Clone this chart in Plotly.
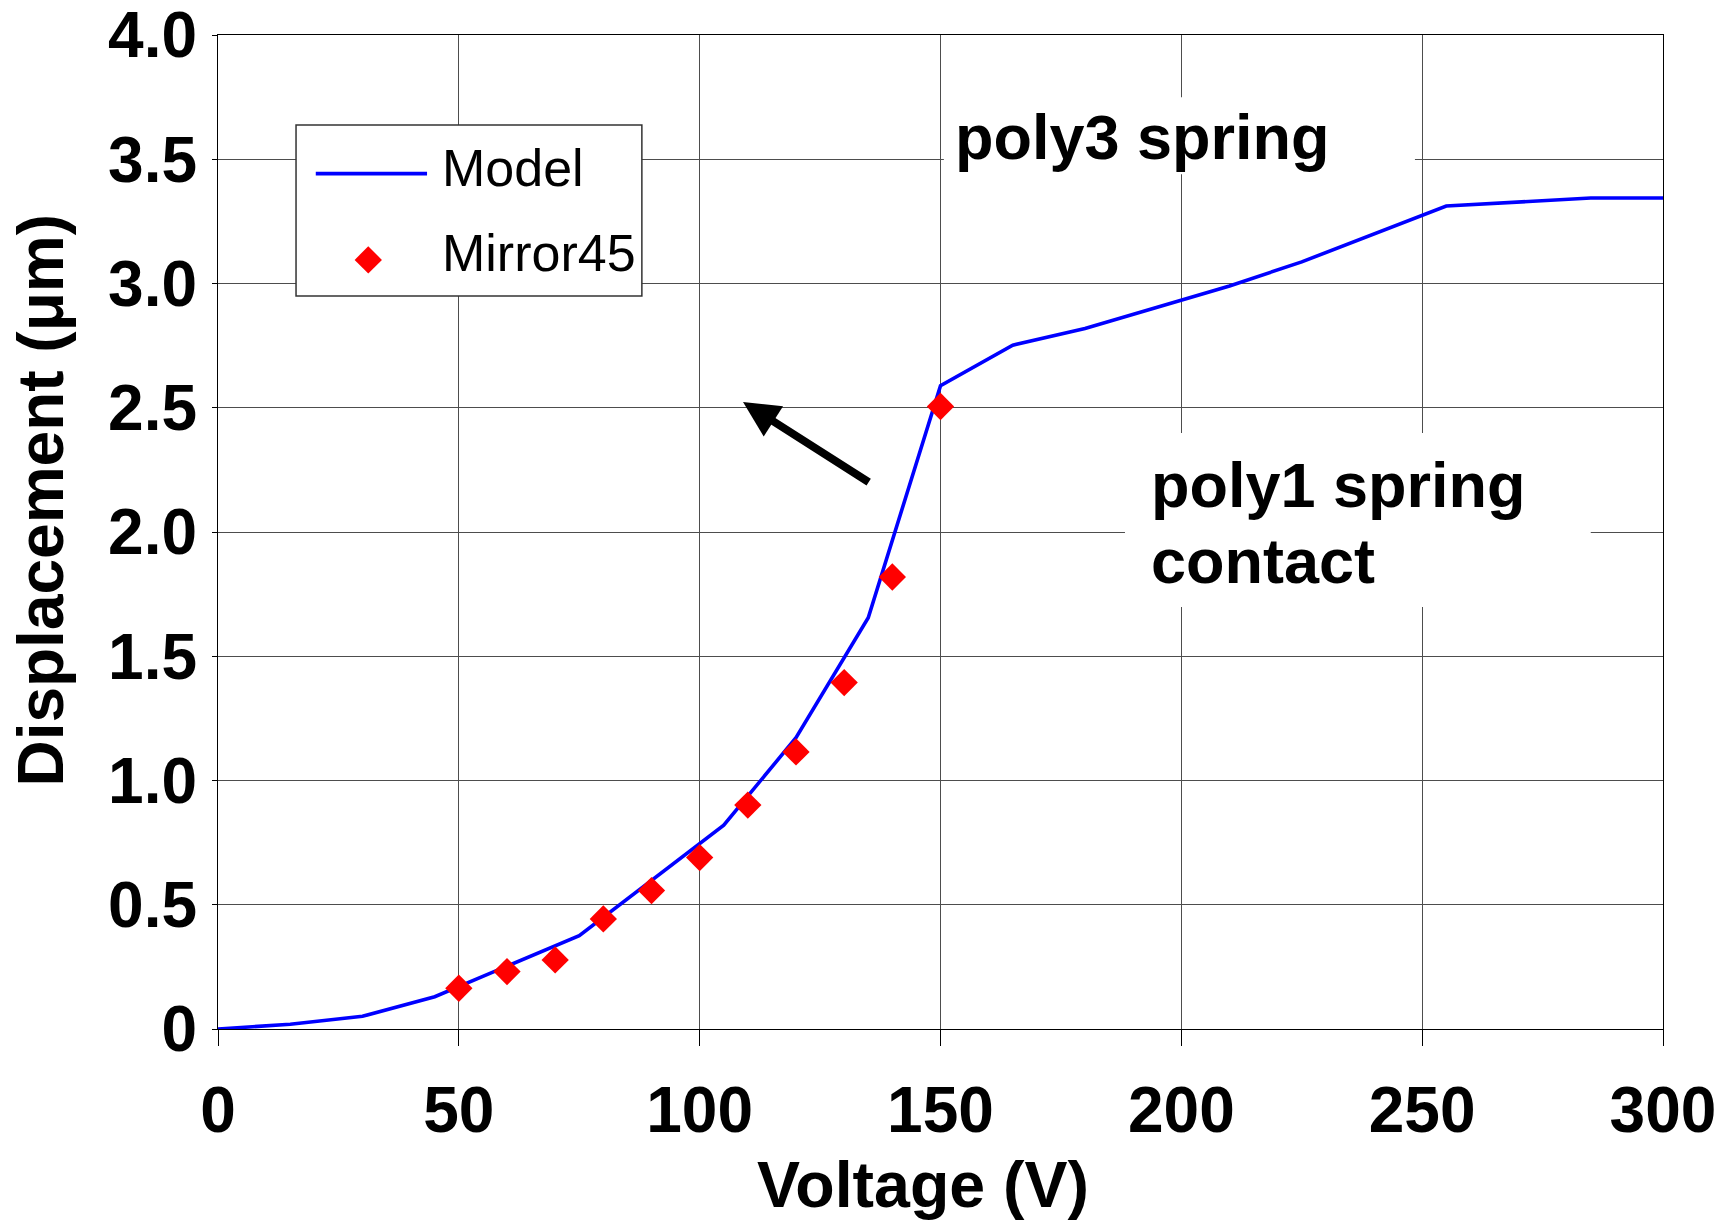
import plotly.graph_objects as go

# Model curve (displacement vs. drive voltage)
model_v = [0, 15, 30, 45, 75, 105, 120, 135, 150, 165, 180, 210, 225, 255, 285, 300]
model_d = [0.0, 0.019, 0.051, 0.13, 0.376, 0.82, 1.172, 1.655, 2.589, 2.752,
           2.819, 2.99, 3.087, 3.312, 3.344, 3.344]

# Measured Mirror45 data
meas_v = [50, 60, 70, 80, 90, 100, 110, 120, 130, 140, 150]
meas_d = [0.164, 0.231, 0.278, 0.443, 0.557, 0.690, 0.901, 1.115, 1.394, 1.819, 2.505]

x_ticks = [0, 50, 100, 150, 200, 250, 300]
y_ticks = [0, 0.5, 1.0, 1.5, 2.0, 2.5, 3.0, 3.5, 4.0]
y_tick_text = ["0", "0.5", "1.0", "1.5", "2.0", "2.5", "3.0", "3.5", "4.0"]

FONT = "Liberation Sans, Arial, sans-serif"
BLUE = "#0000ff"
RED = "#ff0000"
MARKER = dict(symbol="diamond", color=RED, size=21, line=dict(width=0))

fig = go.Figure()
fig.add_trace(go.Scatter(
    x=model_v, y=model_d, mode="lines", name="Model",
    line=dict(color=BLUE, width=3.6), showlegend=False,
))
fig.add_trace(go.Scatter(
    x=meas_v, y=meas_d, mode="markers", name="Mirror45",
    marker=MARKER, showlegend=False,
))

# white label backgrounds that hide the grid behind the annotations
fig.add_shape(type="rect", xref="x", yref="y", x0=150.7, x1=248.5, y0=3.44, y1=3.75,
              fillcolor="white", line=dict(width=0), layer="between")
fig.add_shape(type="rect", xref="x", yref="y", x0=188.3, x1=285.0, y0=1.698, y1=2.398,
              fillcolor="white", line=dict(width=0), layer="between")

# legend box with a line sample and a marker sample
fig.add_shape(type="rect", xref="x", yref="y", x0=16.2, x1=88.0, y0=2.950, y1=3.638,
              fillcolor="white", line=dict(color="#333333", width=1.5), layer="between")
fig.add_shape(type="line", xref="x", yref="y", x0=20.3, x1=43.4, y0=3.442, y1=3.442,
              line=dict(color=BLUE, width=3.6), layer="between")
fig.add_trace(go.Scatter(x=[31.2], y=[3.095], mode="markers", marker=MARKER,
                         showlegend=False, hoverinfo="skip"))
legend_font = dict(family=FONT, size=52, color="black")
fig.add_annotation(text="Model", xref="paper", yref="paper", x=(440 - 218) / 1445,
                   y=(1029 - 168) / 994, xanchor="left", yanchor="middle",
                   showarrow=False, font=legend_font)
fig.add_annotation(text="Mirror45", xref="paper", yref="paper", x=(440 - 218) / 1445,
                   y=(1029 - 253) / 994, xanchor="left", yanchor="middle",
                   showarrow=False, font=legend_font)

label_font = dict(family=FONT, size=63, color="black", weight="bold")
fig.add_annotation(text="poly3 spring", xref="paper", yref="paper", x=0.5087, y=0.8969,
                   xanchor="left", yanchor="middle", showarrow=False, font=label_font)
fig.add_annotation(text="poly1 spring", xref="paper", yref="paper", x=0.644, y=0.5476,
                   xanchor="left", yanchor="middle", showarrow=False, font=label_font)
fig.add_annotation(text="contact", xref="paper", yref="paper", x=0.644, y=0.4708,
                   xanchor="left", yanchor="middle", showarrow=False, font=label_font)

# arrow pointing toward the poly3 regime
fig.add_annotation(x=109.0, y=2.523, ax=135.4, ay=2.197, xref="x", yref="y",
                   axref="x", ayref="y", text="", showarrow=True,
                   arrowhead=2, arrowsize=0.9, arrowwidth=8, arrowcolor="black",
                   standoff=0)

# axis titles
fig.add_annotation(text="Voltage (V)", xref="paper", yref="paper", x=0.488, y=-0.157,
                   xanchor="center", yanchor="middle", showarrow=False,
                   font=dict(family=FONT, size=64.5, color="black", weight="bold"))
fig.add_annotation(text="Displacement (μm)", xref="paper", yref="paper", x=-0.1225,
                   y=0.5326, xanchor="center", yanchor="middle", showarrow=False,
                   textangle=-90,
                   font=dict(family=FONT, size=64, color="black", weight="bold"))

tick_font = dict(family=FONT, size=64, color="black", weight="bold")
fig.update_xaxes(
    range=[0, 300], tickvals=x_ticks, ticks="outside", ticklen=16, tickwidth=1,
    tickcolor="black", showgrid=True, gridcolor="#4d4d4d", gridwidth=1.2,
    showline=True, linecolor="black", linewidth=1.3, mirror=True, zeroline=False,
    tickfont=tick_font, ticklabelstandoff=9, automargin=False,
    ticklabeloverflow="allow",
)
fig.update_yaxes(
    range=[0, 4], tickvals=y_ticks, ticktext=y_tick_text, ticks="outside", ticklen=5,
    tickwidth=1, tickcolor="black", showgrid=True, gridcolor="#4d4d4d", gridwidth=1.2,
    showline=True, linecolor="black", linewidth=1.3, mirror=True, zeroline=False,
    tickfont=tick_font, ticklabelstandoff=2, automargin=False,
    ticklabeloverflow="allow",
)

fig.update_layout(
    width=1735, height=1220,
    margin=dict(l=218, r=72, t=35, b=191, pad=0),
    paper_bgcolor="white", plot_bgcolor="white",
    showlegend=False,
)

fig.write_html("out.html")
